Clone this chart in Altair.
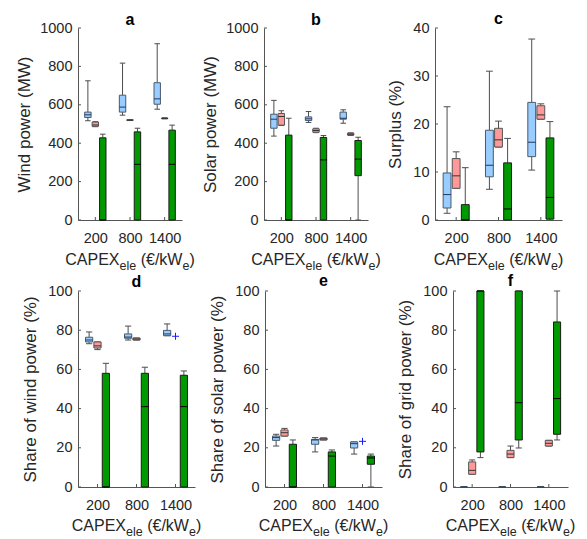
import json
import altair as alt
import pandas as pd

FONT = "Liberation Sans"

# ---------------- data ----------------
cat_labels = ["200", "800", "1400"]
series_names = ["blue", "red", "green"]
fill_colors = ["#99ccff", "#ff9999", "#009900"]
stroke_colors = ["#4a5a6a", "#555555", "#1a1a1a"]
median_colors = ["#1f3a5f", "#333333", "#000000"]

# each box: [min, q1, median, q3, max]
a_blue = [[517, 534, 548, 562, 725], [546, 562, 588, 650, 817], [577, 603, 631, 715, 918]]
a_red = [[486, 488, 495, 510, 512], [518, 519, 520, 522, 523], [527, 528, 529, 531, 532]]
a_green = [[0, 0, 0, 428, 447], [0, 0, 290, 459, 478], [0, 0, 290, 468, 494]]

b_blue = [[437, 478, 525, 551, 623], [508, 518, 527, 537, 565], [504, 525, 530, 562, 574]]
b_red = [[492, 494, 539, 555, 569], [455, 457, 466, 475, 478], [440, 442, 447, 452, 454]]
b_green = [[0, 0, 0, 442, 530], [0, 0, 313, 430, 440], [0, 231, 317, 414, 431]]

c_blue = [[1.4, 2.5, 5.3, 9.8, 23.6], [6.4, 9.0, 11.4, 18.7, 31.0], [10.4, 13.2, 16.2, 24.5, 37.7]]
c_red = [[6.6, 6.6, 9.2, 12.8, 14.2], [15.2, 15.2, 16.7, 19.1, 20.6], [21.0, 21.0, 21.9, 23.8, 24.2]]
c_green = [[0, 0, 0, 3.2, 10.9], [0, 0, 2.3, 11.9, 17.0], [0, 0.2, 4.7, 17.1, 20.5]]

d_blue = [[73.1, 74.0, 75.0, 76.4, 79.1], [75.0, 75.9, 76.5, 78.1, 82.1], [77.2, 77.2, 78.1, 79.9, 83.2]]
d_red = [[70.1, 70.9, 72.0, 74.0, 74.0], [75.0, 75.0, 75.5, 76.0, 76.0], None]
d_green = [[0, 0, 0, 58.0, 63.1], [0, 0, 41.0, 58.0, 61.1], [0, 0, 41.0, 57.0, 59.2]]
d_red_outliers = [None, None, 76.9]

e_blue = [[20.9, 23.8, 25.2, 26.0, 26.9], [17.9, 21.8, 24.0, 24.3, 25.2], [16.8, 19.9, 22.1, 23.0, 23.0]]
e_red = [[26.0, 26.0, 27.7, 29.1, 29.9], [24.0, 24.0, 24.5, 25.0, 25.0], None]
e_green = [[0, 0, 0, 21.8, 24.0], [0, 0, 15.8, 17.9, 18.9], [0, 11.6, 14.8, 15.8, 16.8]]
e_red_outliers = [None, None, 23.3]

f_blue = [[0, 0, 0, 0, 0], [0, 0, 0, 0, 0], [0, 0, 0, 0, 0]]
f_red = [[6.5, 6.5, 8.5, 12.8, 13.8], [15.0, 15.0, 16.8, 18.7, 20.9], [20.9, 20.9, 22.3, 23.8, 23.8]]
f_green = [[15.0, 17.9, 100, 100, 100], [19.9, 24.0, 43.0, 100, 100], [24.0, 26.9, 45.1, 84.2, 100]]

ticks_power = [0, 200, 400, 600, 800, 1000]
ticks_surplus = [0, 10, 20, 30, 40]
ticks_share = [0, 20, 40, 60, 80, 100]

# ---------------- layout constants ----------------
offsets = [-0.215, 0.0, 0.215]
box_w = 0.185
cap_w = 0.16
AXIS_COLOR = "#555555"
TEXT_COLOR = "#262626"

H1, H2 = 192, 196
panels = [
    dict(title="a", ylab="Wind power (MW)", series=(a_blue, a_red, a_green), out=None,
         yt=ticks_power, W=104, H=H1, L=70, R=13, T=20, B=56, tX=-49, tdy=-3.5, xdy=45, sd=5, lp=22),
    dict(title="b", ylab="Solar power (MW)", series=(b_blue, b_red, b_green), out=None,
         yt=ticks_power, W=104, H=H1, L=69, R=14, T=20, B=56, tX=-49, tdy=-3.5, xdy=45, sd=5, lp=22),
    dict(title="c", ylab="Surplus (%)", series=(c_blue, c_red, c_green), out=None,
         yt=ticks_surplus, W=127, H=H1, L=53, R=1.5, T=17, B=59, tX=-35, tdy=-4, xdy=45, sd=5, lp=22),
    dict(title="d", ylab="Share of wind power (%)", series=(d_blue, d_red, d_green), out=d_red_outliers,
         yt=ticks_share, W=117, H=H2, L=59.3, R=11.7, T=20, B=48, tX=-43, tdy=-4.5, xdy=44, sd=5, lp=22),
    dict(title="e", ylab="Share of solar power (%)", series=(e_blue, e_red, e_green), out=e_red_outliers,
         yt=ticks_share, W=117, H=H2, L=57.3, R=11.7, T=20, B=48, tX=-43, tdy=-5.5, xdy=44, sd=5, lp=22),
    dict(title="f", ylab="Share of grid power (%)", series=(f_blue, f_red, f_green), out=None,
         yt=ticks_share, W=115, H=H2, L=58.3, R=8, T=20, B=48, tX=-43, tdy=-5, xdy=44, sd=5, lp=22),
]

# Arial / Liberation Sans advance widths (em) for the x-axis title pieces
EM = {"C": .722, "A": .667, "P": .667, "E": .667, "X": .667, "e": .556, "l": .222,
      " ": .278, "(": .333, "€": .556, "/": .278, "k": .5, "W": .944, ")": .333}
MAIN_FS, SUB_FS = 16, 12.5
xtitle_pieces = [("CAPEX", False), ("ele", True), (" ", False), ("(€/kW", False), ("e", True), (")", False)]

label_expr = "%s[datum.value - 1]" % json.dumps(cat_labels)


def box_frame(series_lists):
    rows = []
    for s_i, vals in enumerate(series_lists):
        for c_i, v in enumerate(vals):
            if v is None:
                continue
            pos = c_i + 1 + offsets[s_i]
            rows.append(dict(series=series_names[s_i], pos=pos,
                             xl=pos - box_w / 2, xr=pos + box_w / 2,
                             cl=pos - cap_w / 2, cr=pos + cap_w / 2,
                             lo=v[0], q1=v[1], med=v[2], q3=v[3], hi=v[4]))
    return pd.DataFrame(rows)


def one_row(t=""):
    return pd.DataFrame({"t": [t]})


def make_panel(p):
    W, H = p["W"], p["H"]
    df = box_frame(p["series"])
    xs = alt.Scale(domain=[0.5, 3.5], nice=False, zero=False)
    ys = alt.Scale(domain=[0, p["yt"][-1]], nice=False, zero=True)
    xaxis = alt.Axis(values=[1, 2, 3], labelExpr=label_expr, title="", labelPadding=p["lp"],
                     labelBaseline="alphabetic", ticks=False, tickSize=0, grid=False,
                     labelAngle=0, labelFlush=False, labelOverlap=False)
    yaxis = alt.Axis(values=p["yt"], format="d", title=p["ylab"], titleX=p["tX"], titleY=H / 2,
                     titleAngle=270, titleBaseline="alphabetic", titleAlign="center", ticks=False,
                     tickSize=0, grid=False, labelPadding=6, labelFlush=False, labelOverlap=False)

    def X(f):
        return alt.X(f, scale=xs, axis=xaxis)

    def Y(f):
        return alt.Y(f, scale=ys, axis=yaxis)

    base = alt.Chart(df)
    wcol = "#4d4d4d"
    layers = []
    layers.append(base.mark_rule(color=wcol, strokeWidth=1).encode(
        x=X("pos:Q"), y=Y("lo:Q"), y2="q1:Q"))
    layers.append(base.mark_rule(color=wcol, strokeWidth=1).encode(
        x=X("pos:Q"), y=Y("q3:Q"), y2="hi:Q"))
    for fld in ["lo", "hi"]:
        layers.append(base.mark_rule(color=wcol, strokeWidth=1).encode(
            x=X("cl:Q"), x2="cr:Q", y=Y(fld + ":Q")))
    layers.append(base.mark_rect(strokeWidth=1).encode(
        x=X("xl:Q"), x2="xr:Q", y=Y("q1:Q"), y2="q3:Q",
        fill=alt.Fill("series:N", scale=alt.Scale(domain=series_names, range=fill_colors), legend=None),
        stroke=alt.Stroke("series:N", scale=alt.Scale(domain=series_names, range=stroke_colors), legend=None)))
    layers.append(base.mark_rule(strokeWidth=1).encode(
        x=X("xl:Q"), x2="xr:Q", y=Y("med:Q"),
        color=alt.Color("series:N", scale=alt.Scale(domain=series_names, range=median_colors), legend=None)))
    if p["out"] is not None:
        orows = [dict(pos=i + 1 + offsets[1], v=v) for i, v in enumerate(p["out"]) if v is not None]
        layers.append(alt.Chart(pd.DataFrame(orows)).mark_point(
            shape="M-1,0L1,0M0,-1L0,1", size=49, filled=False, stroke="#1a1aff", strokeWidth=1, opacity=1).encode(
            x=X("pos:Q"), y=Y("v:Q")))
    # inward ticks
    layers.append(alt.Chart(pd.DataFrame({"v": p["yt"]})).mark_rule(color=AXIS_COLOR, strokeWidth=1).encode(
        x=alt.value(0), x2=alt.value(3), y=Y("v:Q")))
    layers.append(alt.Chart(pd.DataFrame({"p": [1, 2, 3]})).mark_rule(color=AXIS_COLOR, strokeWidth=1).encode(
        x=X("p:Q"), y=alt.value(H), y2=alt.value(H - 3)))
    # panel letter
    layers.append(alt.Chart(one_row(p["title"])).mark_text(
        font=FONT, fontSize=16, fontWeight="bold", align="center", baseline="alphabetic", color="#000000").encode(
        x=alt.value(W / 2), y=alt.value(p["tdy"]), text="t:N"))
    # x-axis title with subscripts
    widths = [sum(EM[ch] for ch in txt) * (SUB_FS if sub else MAIN_FS) for txt, sub in xtitle_pieces]
    cur = W / 2 - sum(widths) / 2
    for (txt, sub), w in zip(xtitle_pieces, widths):
        if txt.strip():
            layers.append(alt.Chart(one_row(txt)).mark_text(
                font=FONT, fontSize=SUB_FS if sub else MAIN_FS, align="left", baseline="alphabetic",
                color=TEXT_COLOR).encode(
                x=alt.value(cur), y=alt.value(H + p["xdy"] + (p["sd"] if sub else 0)), text="t:N"))
        cur += w
    # invisible extent markers that fix each cell's bounds
    layers.append(alt.Chart(one_row()).mark_rule(strokeOpacity=0, opacity=0).encode(
        x=alt.value(-p["L"]), x2=alt.value(W + p["R"]), y=alt.value(-p["T"])))
    layers.append(alt.Chart(one_row()).mark_rule(strokeOpacity=0, opacity=0).encode(
        x=alt.value(-p["L"]), x2=alt.value(W + p["R"]), y=alt.value(H + p["B"])))
    return alt.layer(*layers).properties(width=W, height=H)


charts = [make_panel(p) for p in panels]
row1 = alt.hconcat(*charts[:3], spacing=0)
row2 = alt.hconcat(*charts[3:], spacing=0)
chart = alt.vconcat(row1, row2, spacing=-8).properties(padding=0).configure_view(
    stroke=None
).configure_axis(
    labelFont=FONT, labelFontSize=14.5, labelColor=TEXT_COLOR,
    domainColor=AXIS_COLOR, domainWidth=1,
    titleFont=FONT, titleFontSize=17, titleColor=TEXT_COLOR, titleFontWeight="normal",
)

chart.save("out.html", embed_options={"renderer": "svg", "actions": False})
